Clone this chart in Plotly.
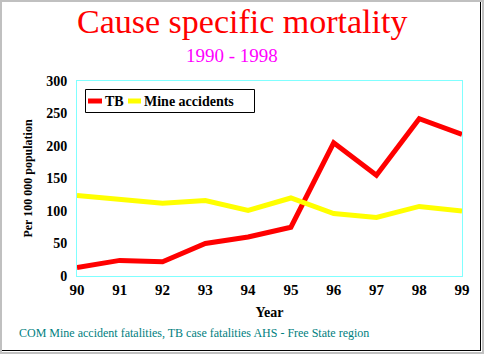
import plotly.graph_objects as go

years = ["90", "91", "92", "93", "94", "95", "96", "97", "98", "99"]
tb = [13, 24, 22, 50, 60, 75, 205, 155, 242, 218]
mine = [124, 118, 112, 116, 101, 120, 96, 90, 107, 100]
series_names = ["TB", "Mine accidents"]
series_colors = ["#FF0000", "#FFFF00"]

W, H = 484, 354
L, R, T, B = 77, 462, 81, 276  # plot area pixel bounds

def px(x):
    return (x - L) / (R - L)

def py(y):
    return (B - y) / (B - T)

SERIF = "Liberation Serif, Times New Roman, serif"

fig = go.Figure()
for name, vals, col in zip(series_names, [tb, mine], series_colors):
    fig.add_trace(go.Scatter(x=years, y=vals, name=name, mode="lines",
                             line=dict(color=col, width=5), showlegend=False))

shapes = [
    dict(type="rect", xref="paper", yref="paper", x0=px(1), x1=px(W - 1), y0=py(1), y1=py(H - 1),
         line=dict(color="#C0C0C0", width=2), layer="above"),
    dict(type="line", xref="paper", yref="paper", x0=px(480.5), x1=px(480.5), y0=py(2), y1=py(351),
         line=dict(color="#000000", width=1)),
    dict(type="line", xref="paper", yref="paper", x0=px(2), x1=px(481), y0=py(350.5), y1=py(350.5),
         line=dict(color="#000000", width=1)),
    # legend box
    dict(type="rect", xref="paper", yref="paper", x0=px(85.5), x1=px(254.5), y0=py(89.5), y1=py(112.5),
         line=dict(color="#000000", width=1), fillcolor="white", layer="above"),
]

annotations = [
    dict(text="Cause specific mortality", xref="paper", yref="paper", x=px(242), y=py(22),
         xanchor="center", yanchor="middle", showarrow=False,
         font=dict(family=SERIF, size=34, color="#FF0000")),
    dict(text="1990 - 1998", xref="paper", yref="paper", x=px(232), y=py(55),
         xanchor="center", yanchor="middle", showarrow=False,
         font=dict(family=SERIF, size=19, color="#FF00FF")),
    dict(text="COM Mine accident fatalities, TB case fatalities AHS - Free State region",
         xref="paper", yref="paper", x=px(17), y=py(333),
         xanchor="left", yanchor="middle", showarrow=False,
         font=dict(family=SERIF, size=12, color="#008080")),
]

# custom legend entries
leg_y = 101
for (sx0, sx1, tx), name, col in zip([(88, 102, 103), (128, 141, 142)], series_names, series_colors):
    shapes.append(dict(type="line", xref="paper", yref="paper", x0=px(sx0), x1=px(sx1),
                       y0=py(leg_y), y1=py(leg_y), line=dict(color=col, width=5), layer="above"))
    annotations.append(dict(text="<b>%s</b>" % name, xref="paper", yref="paper", x=px(tx), y=py(leg_y),
                            xanchor="left", yanchor="middle", showarrow=False,
                            font=dict(family=SERIF, size=14, color="black")))

fig.update_layout(
    width=W, height=H,
    margin=dict(l=L, r=W - R, t=T, b=H - B, pad=0),
    paper_bgcolor="white", plot_bgcolor="white",
    font=dict(family=SERIF, color="black"),
    showlegend=False,
    shapes=shapes,
    annotations=annotations,
)

fig.update_xaxes(type="category", range=[0, 9], showgrid=False, zeroline=False,
                 showline=True, mirror=True, linecolor="#80FFFF", linewidth=1,
                 ticks="", tickfont=dict(family=SERIF, size=15, color="black", weight="bold"),
                 title=dict(text="<b>Year</b>", font=dict(family=SERIF, size=14, color="black"), standoff=10))
fig.update_yaxes(range=[0, 300], dtick=50, showgrid=False, zeroline=False,
                 showline=True, mirror=True, linecolor="#80FFFF", linewidth=1,
                 ticks="", ticklabelstandoff=6,
                 tickfont=dict(family=SERIF, size=14, color="black", weight="bold"),
                 title=dict(text="<b>Per 100 000 population</b>", font=dict(family=SERIF, size=12, color="black"), standoff=11))

fig.write_html("out.html")
